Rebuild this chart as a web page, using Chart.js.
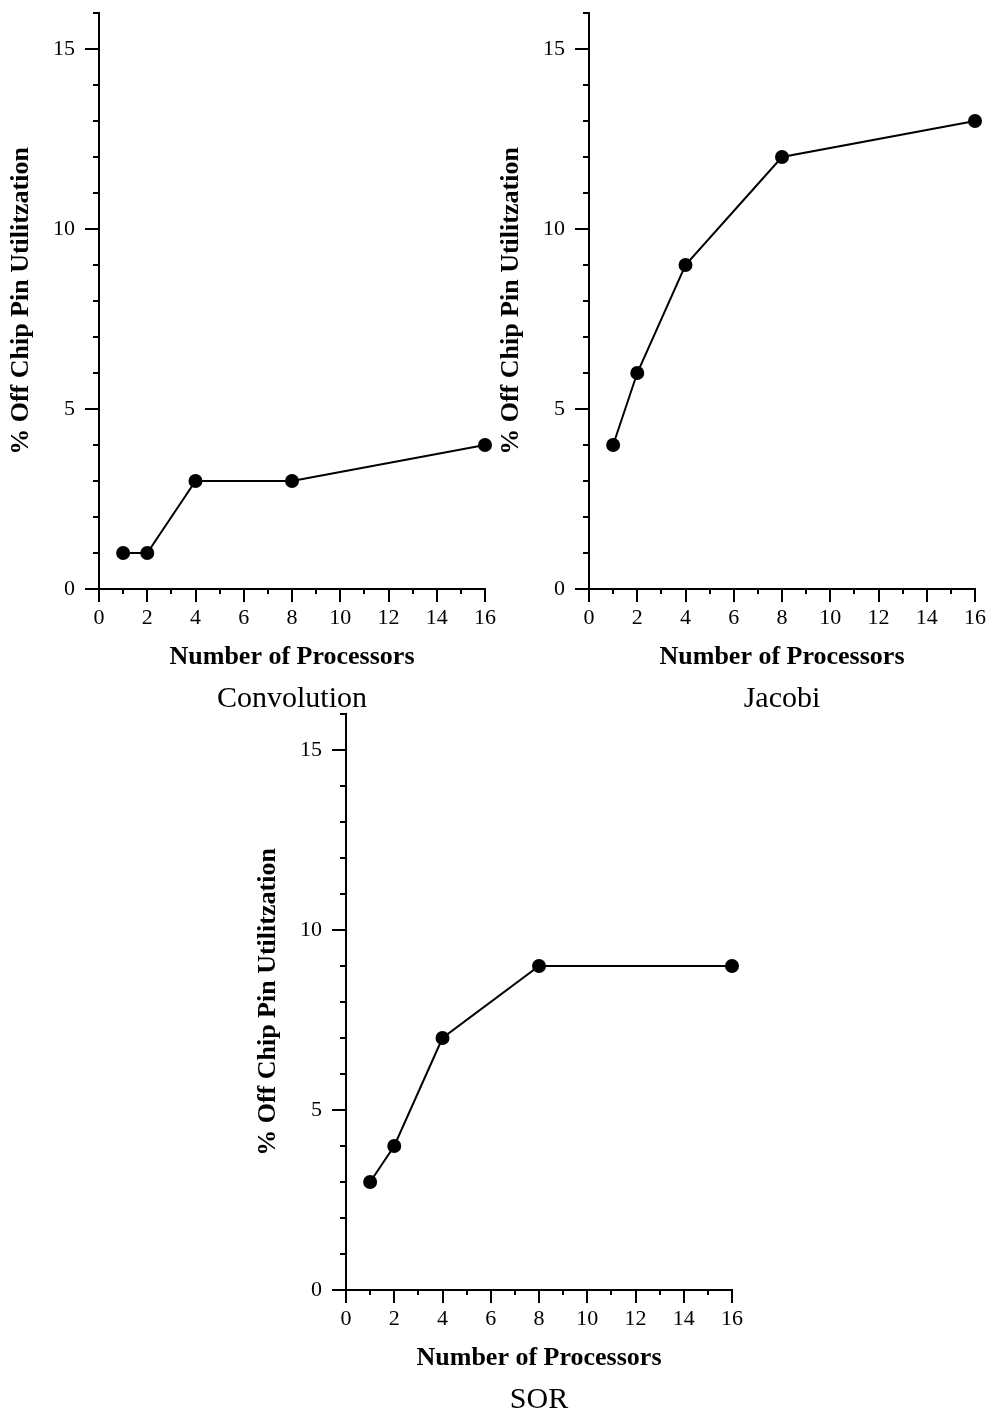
<!doctype html>
<html>
<head>
	<meta charset="utf-8" />
	<title>Off Chip Pin Utilization</title>
	<style>
		html, body { margin: 0; padding: 0; background: #fff; width: 994px; height: 1416px; overflow: hidden; }
		.plot { position: absolute; width: 584px; height: 717px; }
		canvas { display: block; }
	</style>
	<script src="https://cdn.jsdelivr.net/npm/chart.js@4/dist/chart.umd.min.js"></script>
</head>
<body>
	<div class="plot" style="left:0px;top:0px"><canvas id="conv" width="584" height="717"></canvas></div>
	<div class="plot" style="left:490px;top:0px"><canvas id="jacobi" width="584" height="717"></canvas></div>
	<div class="plot" style="left:247px;top:701px"><canvas id="sor" width="584" height="717"></canvas></div>

<script>
// data
var processors = [1, 2, 4, 8, 16];
var convolution = [1, 1, 3, 3, 4];
var jacobi = [4, 6, 9, 12, 13];
var sor = [3, 4, 7, 9, 9];

var xLabels = [0, 2, 4, 6, 8, 10, 12, 14, 16];
var yLabels = [0, 5, 10, 15];

var FONT = "'Liberation Serif', 'Times New Roman', serif";

Chart.defaults.color = '#000';
Chart.defaults.font.family = FONT;

// outward tick marks, long on labelled values, short in between
var tickMarks = {
	id: 'tickMarks',
	afterDraw: function(chart) {
		var ctx = chart.ctx;
		var xs = chart.scales.x, ys = chart.scales.y;
		var left = chart.chartArea.left, bottom = chart.chartArea.bottom;
		ctx.save();
		ctx.strokeStyle = '#000';
		ctx.lineWidth = 2;
		ctx.beginPath();
		ys.ticks.forEach(function(t) {
			var py = Math.round(ys.getPixelForValue(t.value));
			var len = yLabels.indexOf(t.value) >= 0 ? 14 : 6;
			ctx.moveTo(left, py);
			ctx.lineTo(left - len, py);
		});
		xs.ticks.forEach(function(t) {
			var px = Math.round(xs.getPixelForValue(t.value));
			var len = xLabels.indexOf(t.value) >= 0 ? 13 : 5;
			ctx.moveTo(px, bottom);
			ctx.lineTo(px, bottom + len);
		});
		ctx.stroke();
		ctx.restore();
	}
};

function makeChart(id, name, values) {
	var pts = processors.map(function(p, i) { return { x: p, y: values[i] }; });
	return new Chart(document.getElementById(id).getContext('2d'), {
		type: 'line',
		data: {
			datasets: [{
				data: pts,
				borderColor: '#000',
				backgroundColor: '#000',
				borderWidth: 2,
				pointRadius: 7,
				pointBackgroundColor: '#000',
				pointBorderWidth: 0,
				tension: 0,
				fill: false,
				clip: false
			}]
		},
		options: {
			responsive: false,
			animation: false,
			events: [],
			layout: { padding: { left: 0, right: 0, top: 13, bottom: 0 } },
			plugins: {
				legend: { display: false },
				tooltip: { enabled: false },
				title: {
					display: true,
					text: name,
					position: 'bottom',
					font: { family: FONT, size: 30, weight: 'normal' },
					padding: { top: 8, bottom: 0 }
				}
			},
			scales: {
				x: {
					type: 'linear',
					min: 0,
					max: 16,
					afterFit: function(s) {
						s.height = 84;
						s.paddingLeft = 0;
						s.paddingRight = 99;
					},
					grid: { display: true, drawOnChartArea: false, drawTicks: false },
					border: { display: true, color: '#000', width: 2 },
					ticks: {
						stepSize: 1,
						autoSkip: false,
						maxRotation: 0,
						padding: 16,
						font: { family: FONT, size: 22 },
						callback: function(v) { return xLabels.indexOf(v) >= 0 ? String(v) : ''; }
					},
					title: {
						display: true,
						text: 'Number of Processors',
						font: { family: FONT, size: 26, weight: 'bold' },
						padding: { top: 0, bottom: 0 }
					}
				},
				y: {
					type: 'linear',
					min: 0,
					max: 16,
					afterFit: function(s) {
						s.width = 99;
						s.paddingTop = 0;
						s.paddingBottom = 0;
					},
					grid: { display: true, drawOnChartArea: false, drawTicks: false },
					border: { display: true, color: '#000', width: 2 },
					ticks: {
						stepSize: 1,
						autoSkip: false,
						padding: 24,
						font: { family: FONT, size: 22 },
						callback: function(v) { return yLabels.indexOf(v) >= 0 ? String(v) : ''; }
					},
					title: {
						display: true,
						text: '% Off Chip Pin Utilitzation',
						font: { family: FONT, size: 26, weight: 'bold' },
						padding: { top: 6, bottom: 0 }
					}
				}
			}
		},
		plugins: [tickMarks]
	});
}

makeChart('conv', 'Convolution', convolution);
makeChart('jacobi', 'Jacobi', jacobi);
makeChart('sor', 'SOR', sor);
</script>
</body>
</html>
